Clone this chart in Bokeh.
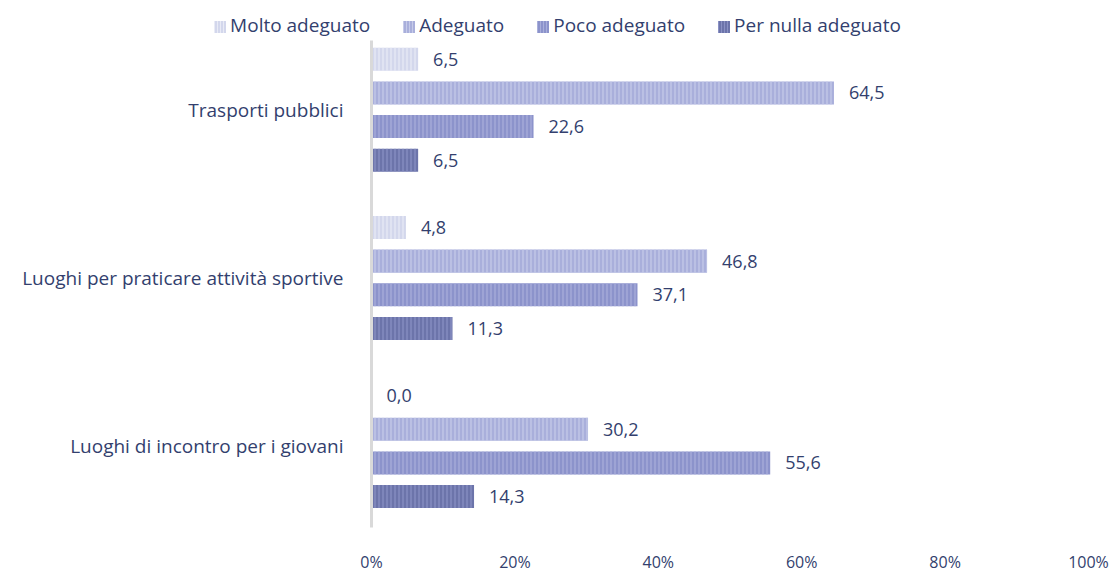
from bokeh.plotting import figure
from bokeh.models import ColumnDataSource, FixedTicker, LabelSet, Div
from bokeh.layouts import column
from bokeh.core.properties import value
from bokeh.embed import file_html
from bokeh.resources import INLINE

categories = ["Trasporti pubblici", "Luoghi per praticare attività sportive", "Luoghi di incontro per i giovani"]
series = ["Molto adeguato", "Adeguato", "Poco adeguato", "Per nulla adeguato"]
molto = [6.5, 4.8, 0.0]
adeguato = [64.5, 46.8, 30.2]
poco = [22.6, 37.1, 55.6]
nulla = [6.5, 11.3, 14.3]
x_ticks = [0, 20, 40, 60, 80, 100]

values = [molto, adeguato, poco, nulla]
fills = ["#d3d7ec", "#a9afdb", "#8c93cb", "#6c74aa"]
hatches = ["#e9ebf6", "#c6cbe9", "#a9afdb", "#8a91c4"]
offsets = [0.3, 0.1, -0.1, -0.3]
FONT = "Open Sans"
TXT = "#333f6e"

ncat = len(categories)
cat_y = [ncat - 1 - i for i in range(ncat)]

p = figure(width=1115, height=535, output_backend="svg", toolbar_location=None,
           x_range=(0, 100), y_range=(-0.484, 2.412),
           min_border_left=371, min_border_right=27, min_border_top=0, min_border_bottom=47)
p.outline_line_color = None
p.xgrid.visible = False
p.ygrid.visible = False

legend_parts = []
for s, name in enumerate(series):
    src = ColumnDataSource(dict(
        y=[cy + offsets[s] for cy in cat_y],
        v=values[s],
        lab=[("%.1f" % v).replace(".", ",") for v in values[s]],
    ))
    p.hbar(y="y", right="v", left=0, height=0.137, source=src,
           fill_color=fills[s], line_color=None,
           hatch_pattern="|", hatch_color=hatches[s], hatch_scale=4, hatch_weight=1.2)
    p.add_layout(LabelSet(x="v", y="y", text="lab", source=src, x_offset=15,
                          text_baseline="middle", text_align="left",
                          text_font=value(FONT), text_font_size=value("18px"), text_color=value(TXT)))
    sq = ("display:inline-block;width:12px;height:12px;vertical-align:middle;margin-right:4px;"
          f"background:repeating-linear-gradient(90deg,{hatches[s]} 0px,{hatches[s]} 1px,{fills[s]} 1px,{fills[s]} 3px);")
    ml = "0px" if s == 0 else "33px"
    legend_parts.append(f'<span style="margin-left:{ml};white-space:nowrap;"><span style="{sq}"></span>{name}</span>')

legend_html = ('<div style="position:relative;top:12px;width:1115px;text-align:center;line-height:26px;'
               f'font-family:\'{FONT}\';font-size:19px;color:{TXT};white-space:nowrap;">'
               + "".join(legend_parts) + "</div>")
legend_div = Div(text=legend_html, width=1115, height=40, margin=(0, 0, 0, 0))

p.xaxis.ticker = FixedTicker(ticks=x_ticks)
p.xaxis.major_label_overrides = {t: f"{t}%" for t in x_ticks}
p.xaxis.axis_line_color = None
p.xaxis.major_tick_line_color = None
p.xaxis.minor_tick_line_color = None
p.xaxis.major_label_standoff = 17
p.xaxis.major_label_text_font = FONT
p.xaxis.major_label_text_font_size = "16px"
p.xaxis.major_label_text_color = TXT

p.yaxis.ticker = FixedTicker(ticks=cat_y)
p.yaxis.major_label_overrides = {cy: c for cy, c in zip(cat_y, categories)}
p.yaxis.axis_line_color = "#d9d9d9"
p.yaxis.axis_line_width = 3
p.yaxis.major_tick_line_color = None
p.yaxis.minor_tick_line_color = None
p.yaxis.major_label_standoff = 22
p.yaxis.major_label_text_font = FONT
p.yaxis.major_label_text_font_size = "19px"
p.yaxis.major_label_text_color = TXT

open("out.html", "w").write(file_html(column(legend_div, p, spacing=0), INLINE))
